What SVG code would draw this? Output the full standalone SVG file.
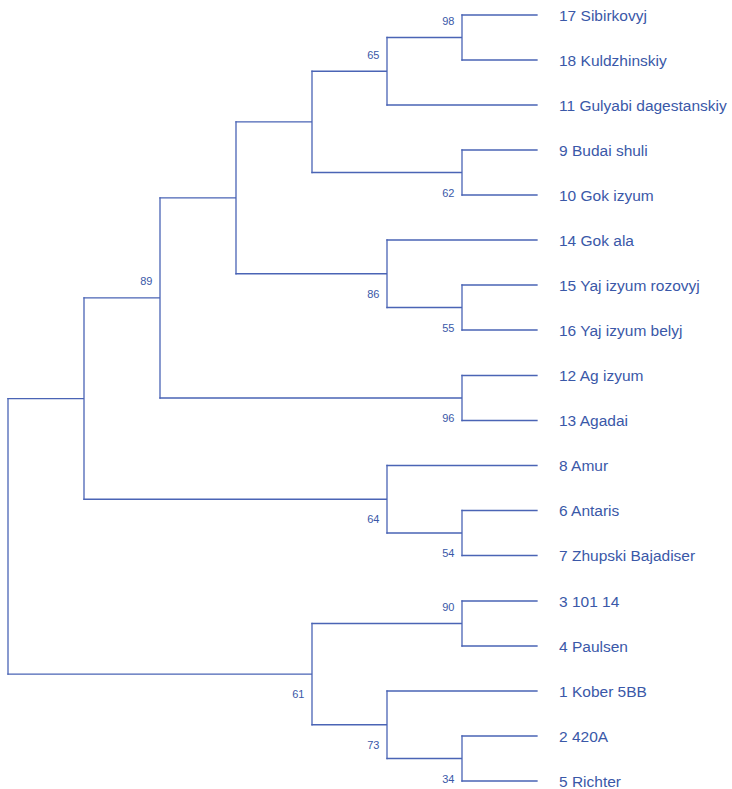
<svg xmlns="http://www.w3.org/2000/svg" width="732" height="789" viewBox="0 0 732 789">
<style>
.e{fill:none;stroke:#4a64b5;stroke-width:1.3;stroke-linecap:square}
.leaf{font-family:"Liberation Sans",Arial,sans-serif;font-size:15.5px;fill:#3a58a8}
.bs{font-family:"Liberation Sans",Arial,sans-serif;font-size:11px;fill:#3a58a8;text-anchor:end}
</style>
<rect width="732" height="789" fill="#ffffff"/>
<g id="connectors">
<path class="e" d="M8,398.6V674.1"/>
<path class="e" d="M8,398.6H84M84,297.9V499.25"/>
<path class="e" d="M84,297.9H160M160,197.8V398"/>
<path class="e" d="M160,197.8H236M236,121.9V273.75"/>
<path class="e" d="M236,121.9H312M312,71.25V172.5"/>
<path class="e" d="M312,71.25H387M387,37.5V105"/>
<path class="e" d="M387,37.5H462M462,15V60"/>
<path class="e" d="M312,172.5H462M462,150V195"/>
<path class="e" d="M236,273.75H387M387,240V307.5"/>
<path class="e" d="M387,307.5H462M462,285V330"/>
<path class="e" d="M160,398H462M462,375.5V420.5"/>
<path class="e" d="M84,499.25H387M387,465.5V533"/>
<path class="e" d="M387,533H462M462,510.5V555.5"/>
<path class="e" d="M8,674.1H312M312,623.5V724.75"/>
<path class="e" d="M312,623.5H462M462,601V646"/>
<path class="e" d="M312,724.75H387M387,691V758.5"/>
<path class="e" d="M387,758.5H462M462,736V781"/>
<path class="e" d="M462,15H537M462,60H537M387,105H537M462,150H537M462,195H537M387,240H537M462,285H537M462,330H537M462,375.5H537M462,420.5H537M387,465.5H537M462,510.5H537M462,555.5H537M462,601H537M462,646H537M387,691H537M462,736H537M462,781H537"/>
</g>
<g id="bootstrap">
<text class="bs" x="454.5" y="24.5">98</text>
<text class="bs" x="379.5" y="58.5">65</text>
<text class="bs" x="454.5" y="196.5">62</text>
<text class="bs" x="379.5" y="297.8">86</text>
<text class="bs" x="454.5" y="331.5">55</text>
<text class="bs" x="454.5" y="422">96</text>
<text class="bs" x="152.5" y="285">89</text>
<text class="bs" x="379.5" y="523">64</text>
<text class="bs" x="454.5" y="557">54</text>
<text class="bs" x="454.5" y="610.5">90</text>
<text class="bs" x="304.5" y="698">61</text>
<text class="bs" x="379.5" y="748.8">73</text>
<text class="bs" x="454.5" y="782.5">34</text>
</g>
<g id="n17"><text class="leaf" x="559" y="20.5">17 Sibirkovyj</text></g>
<g id="n18"><text class="leaf" x="559" y="65.5">18 Kuldzhinskiy</text></g>
<g id="n11"><text class="leaf" x="559" y="110.5">11 Gulyabi dagestanskiy</text></g>
<g id="n9"><text class="leaf" x="559" y="155.5">9 Budai shuli</text></g>
<g id="n10"><text class="leaf" x="559" y="200.5">10 Gok izyum</text></g>
<g id="n14"><text class="leaf" x="559" y="245.5">14 Gok ala</text></g>
<g id="n15"><text class="leaf" x="559" y="290.5">15 Yaj izyum rozovyj</text></g>
<g id="n16"><text class="leaf" x="559" y="335.5">16 Yaj izyum belyj</text></g>
<g id="n12"><text class="leaf" x="559" y="381">12 Ag izyum</text></g>
<g id="n13"><text class="leaf" x="559" y="426">13 Agadai</text></g>
<g id="n8"><text class="leaf" x="559" y="471">8 Amur</text></g>
<g id="n6"><text class="leaf" x="559" y="516">6 Antaris</text></g>
<g id="n7"><text class="leaf" x="559" y="561">7 Zhupski Bajadiser</text></g>
<g id="n3"><text class="leaf" x="559" y="606.5">3 101 14</text></g>
<g id="n4"><text class="leaf" x="559" y="651.5">4 Paulsen</text></g>
<g id="n1"><text class="leaf" x="559" y="696.5">1 Kober 5BB</text></g>
<g id="n2"><text class="leaf" x="559" y="741.5">2 420A</text></g>
<g id="n5"><text class="leaf" x="559" y="786.5">5 Richter</text></g>
</svg>
